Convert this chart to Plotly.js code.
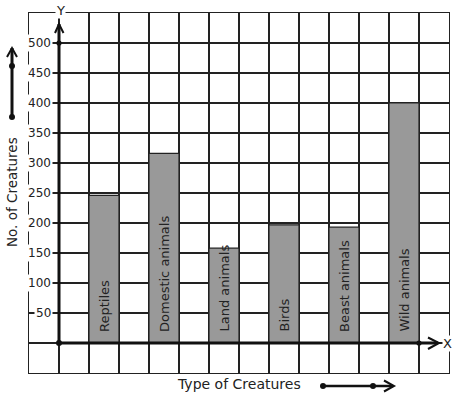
<!DOCTYPE html>
<html>
<head>
<meta charset="utf-8">
<script src="https://cdn.plot.ly/plotly-3.0.1.min.js"></script>
<style>html,body{margin:0;padding:0;background:#fff;}#chart{width:457px;height:399px;}</style>
</head>
<body>
<div id="chart"></div>
<script>
// ---- data ----
const categories = ['Reptiles', 'Domestic animals', 'Land animals', 'Birds', 'Beast animals', 'Wild animals'];
const counts = [246, 316, 158, 197, 193, 400];
const barPositions = [1.5, 3.5, 5.5, 7.5, 9.5, 11.5];
const yTickValues = [50, 100, 150, 200, 250, 300, 350, 400, 450, 500];
const yTickLabels = ['50', '100', '150', '200', '250', '300', '350', '400', '450', '500'];
const xTitle = 'Type of Creatures';
const yTitle = 'No. of Creatures';

// ---- geometry helpers for decorations (pixel -> paper) ----
const L = 29, T = 13, W = 420, H = 360;
const px = p => (p - L) / W;
const py = p => (T + H - p) / H;
const INK = '#111';

function line(x0, y0, x1, y1, w) {
  return {type: 'line', xref: 'paper', yref: 'paper', x0: px(x0), y0: py(y0), x1: px(x1), y1: py(y1),
          line: {color: INK, width: w}, layer: 'above'};
}
function chevron(pts, w) {
  const d = pts.map((p, i) => (i ? 'L' : 'M') + px(p[0]) + ',' + py(p[1])).join(' ');
  return {type: 'path', xref: 'paper', yref: 'paper', path: d, line: {color: INK, width: w}, layer: 'above'};
}
function dot(x, y, r) {
  return {type: 'circle', xref: 'paper', yref: 'paper', x0: px(x - r), x1: px(x + r), y0: py(y + r), y1: py(y - r),
          fillcolor: INK, line: {color: INK, width: 0}, layer: 'above'};
}

const shapes = [
  line(59, 343, 59, 24, 3),
  chevron([[55, 33], [59, 24], [63.5, 33]], 2),
  line(59, 343, 438, 343, 3),
  chevron([[428, 337.5], [439, 343], [428, 349]], 2),
  dot(59, 43, 2.6), dot(59, 343, 3), dot(419, 343, 2.6),
  line(12, 117, 12, 48, 3),
  chevron([[7, 57], [12, 48], [17, 57]], 2),
  dot(12, 66, 3), dot(12, 117, 3),
  line(323, 386, 393, 386, 2.5),
  chevron([[384, 380.5], [394, 386], [384, 391.5]], 2),
  dot(323, 386, 3), dot(373, 386, 3)
];

const annotations = [];
// y tick labels with white background (cover the grid like the reference)
yTickValues.forEach((v, i) => {
  annotations.push({x: 0, y: v, xref: 'x', yref: 'y', text: yTickLabels[i], showarrow: false,
    xanchor: 'right', yanchor: 'middle', xshift: -6, bgcolor: '#fff', borderpad: 1,
    font: {size: 12, color: '#222'}});
});
// bar labels, rotated, at the foot of each bar
categories.forEach((c, i) => {
  annotations.push({x: barPositions[i], y: 0, xref: 'x', yref: 'y', text: c, showarrow: false,
    textangle: -90, xanchor: 'center', yanchor: 'bottom', yshift: 9,
    font: {size: 13, color: '#222'}});
});
// axis letters and titles
function label(x, y, text, extra) {
  return Object.assign({x: px(x), y: py(y), xref: 'paper', yref: 'paper', text: text, showarrow: false,
    xanchor: 'center', yanchor: 'middle', font: {size: 13, color: '#222'}}, extra || {});
}
annotations.push(label(60, 10, 'Y', {bgcolor: '#fff', borderpad: 0}));
annotations.push(label(447, 343, 'X', {bgcolor: '#fff', borderpad: 0}));
annotations.push(label(239, 384, xTitle, {font: {size: 14, color: '#222'}}));
annotations.push(label(12, 192, yTitle, {textangle: -90, font: {size: 13.5, color: '#222'}}));

const trace = {
  type: 'bar', x: barPositions, y: counts, width: 1,
  marker: {color: '#999999', line: {color: '#222', width: 1.2}},
  hoverinfo: 'skip'
};

const axisCommon = {
  showgrid: true, gridcolor: '#222', gridwidth: 1.2, showticklabels: false, ticks: '',
  zeroline: false, showline: true, mirror: true, linecolor: '#222', linewidth: 1.2, fixedrange: true
};

const layout = {
  width: 457, height: 399,
  margin: {l: L, r: 457 - L - W, t: T, b: 399 - T - H, pad: 0},
  paper_bgcolor: '#fff', plot_bgcolor: '#fff',
  font: {family: 'DejaVu Sans', color: '#222'},
  showlegend: false,
  xaxis: Object.assign({}, axisCommon, {range: [-1, 13], tick0: 0, dtick: 1}),
  yaxis: Object.assign({}, axisCommon, {range: [-50, 550], tick0: 0, dtick: 50}),
  shapes: shapes,
  annotations: annotations
};

Plotly.newPlot('chart', [trace], layout, {staticPlot: true, displayModeBar: false});
</script>
</body>
</html>
